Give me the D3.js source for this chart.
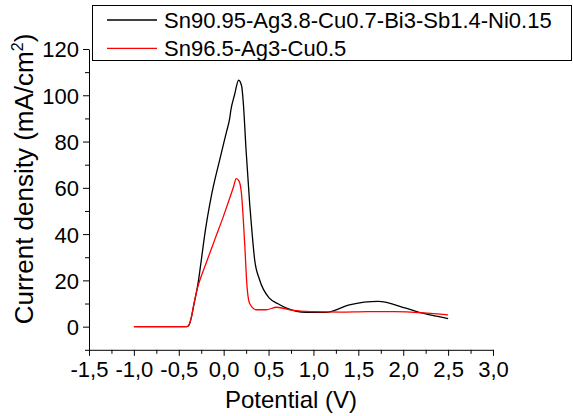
<!DOCTYPE html>
<html>
<head>
<meta charset="utf-8">
<script src="https://cdn.jsdelivr.net/npm/d3@7"></script>
<style>
  body { margin: 0; background: #fff; }
  text { font-family: "Liberation Sans", Arial, sans-serif; fill: #000; }
</style>
</head>
<body>
<div id="chart"></div>
<script>
// potential (V) and current density (mA/cm2)
var blackV = [-1.0, -0.41, -0.385, -0.36, -0.33, -0.30, -0.285, -0.25, -0.21, -0.137, -0.045, 0.03, 0.067, 0.08, 0.12, 0.167, 0.2, 0.22, 0.25, 0.29, 0.31, 0.345, 0.40, 0.51, 0.6, 0.7, 0.92, 1.14, 1.4, 1.72, 2.03, 2.22, 2.5];
var blackJ = [0, 0, 0.8, 4, 10, 15.5, 18.8, 28.5, 40, 56.5, 72, 84, 90, 93.5, 100, 106.5, 104, 96, 76, 53, 43.5, 29, 20.3, 12.3, 10, 8, 6.2, 6.2, 9.4, 10.9, 8, 5.8, 3.5];
var redV = [-1.0, -0.41, -0.385, -0.36, -0.33, -0.30, -0.27, -0.2, -0.1, 0.0, 0.067, 0.11, 0.14, 0.17, 0.197, 0.234, 0.26, 0.29, 0.364, 0.47, 0.59, 0.77, 0.99, 1.3, 1.6, 1.9, 2.22, 2.5];
var redJ = [0, 0, 0.8, 4, 10, 15.5, 19.5, 27, 37.5, 48, 55.5, 60.5, 64, 63, 58, 36, 17.4, 10, 7.3, 7.3, 8.4, 7, 6.5, 6.3, 6.5, 6.5, 6, 5.1];

var seriesNames = ["Sn90.95-Ag3.8-Cu0.7-Bi3-Sb1.4-Ni0.15", "Sn96.5-Ag3-Cu0.5"];
var seriesColors = ["#000000", "#ff0000"];
var xTicks = [-1.5, -1.0, -0.5, 0.0, 0.5, 1.0, 1.5, 2.0, 2.5, 3.0];
var yTicks = [0, 20, 40, 60, 80, 100, 120];

var width = 573, height = 416;

var svg = d3.select("#chart").append("svg")
    .attr("width", width)
    .attr("height", height);

var x = d3.scaleLinear().domain([-1.5, 3.0]).range([89, 493]);
var y = d3.scaleLinear().domain([-10, 120]).range([349.8, 49]);

var fmt = function(d){ return d3.format(".1f")(d).replace(".", ",").replace("\u2212", "-"); };

// x axis
var xAxis = svg.append("g")
    .attr("transform", "translate(0," + y(-10) + ")")
    .call(d3.axisBottom(x).tickValues(xTicks).tickFormat(fmt).tickSize(6).tickSizeOuter(0));
svg.append("g")
    .attr("transform", "translate(0," + y(-10) + ")")
    .call(d3.axisBottom(x).tickValues(d3.range(-1.25, 3.0, 0.5)).tickFormat("").tickSize(4).tickSizeOuter(0))
    .select(".domain").remove();

// y axis
var yAxis = svg.append("g")
    .attr("transform", "translate(" + x(-1.5) + ",0)")
    .call(d3.axisLeft(y).tickValues(yTicks).tickSize(6).tickSizeOuter(0));
svg.append("g")
    .attr("transform", "translate(" + x(-1.5) + ",0)")
    .call(d3.axisLeft(y).tickValues([-10, 10, 30, 50, 70, 90, 110]).tickFormat("").tickSize(4).tickSizeOuter(0))
    .select(".domain").remove();

svg.selectAll(".domain, .tick line").attr("stroke", "#000").attr("stroke-width", 1);
xAxis.selectAll(".tick text").attr("font-size", 22).attr("y", 27).attr("dy", 0);
yAxis.selectAll(".tick text").attr("font-size", 22).attr("x", -10).attr("dy", "0.36em");

// axis titles
svg.append("text")
    .attr("x", x(0.75)).attr("y", 408)
    .attr("text-anchor", "middle")
    .attr("font-size", 24)
    .text("Potential (V)");

var yt = svg.append("text")
    .attr("transform", "translate(33,179) rotate(-90)")
    .attr("text-anchor", "middle")
    .attr("font-size", 26);
yt.append("tspan").text("Current density (mA/cm");
yt.append("tspan").attr("font-size", 16).attr("dy", -10).text("2");
yt.append("tspan").attr("dy", 10).text(")");

// curves
var line = d3.line()
    .x(function(d){ return x(d[0]); })
    .y(function(d){ return y(d[1]); })
    .curve(d3.curveMonotoneX);

var curves = [d3.zip(blackV, blackJ), d3.zip(redV, redJ)];

svg.append("g").selectAll("path").data(curves).enter().append("path")
    .attr("d", line)
    .attr("fill", "none")
    .attr("stroke", function(d, i){ return seriesColors[i]; })
    .attr("stroke-width", 1.3);

// legend
var legend = svg.append("g");
legend.append("rect")
    .attr("x", 92.5).attr("y", 5.5)
    .attr("width", 479).attr("height", 55)
    .attr("fill", "#fff")
    .attr("stroke", "#000").attr("stroke-width", 1);

var items = legend.selectAll("g.item").data(seriesNames).enter().append("g")
    .attr("class", "item")
    .attr("transform", function(d, i){ return "translate(0," + (20 + i * 28.3) + ")"; });
items.append("line")
    .attr("x1", 107).attr("x2", 157)
    .attr("stroke", function(d, i){ return seriesColors[i]; })
    .attr("stroke-width", 1.3);
items.append("text")
    .attr("x", 164).attr("dy", "0.36em")
    .attr("font-size", 22)
    .text(function(d){ return d; });
</script>
</body>
</html>
